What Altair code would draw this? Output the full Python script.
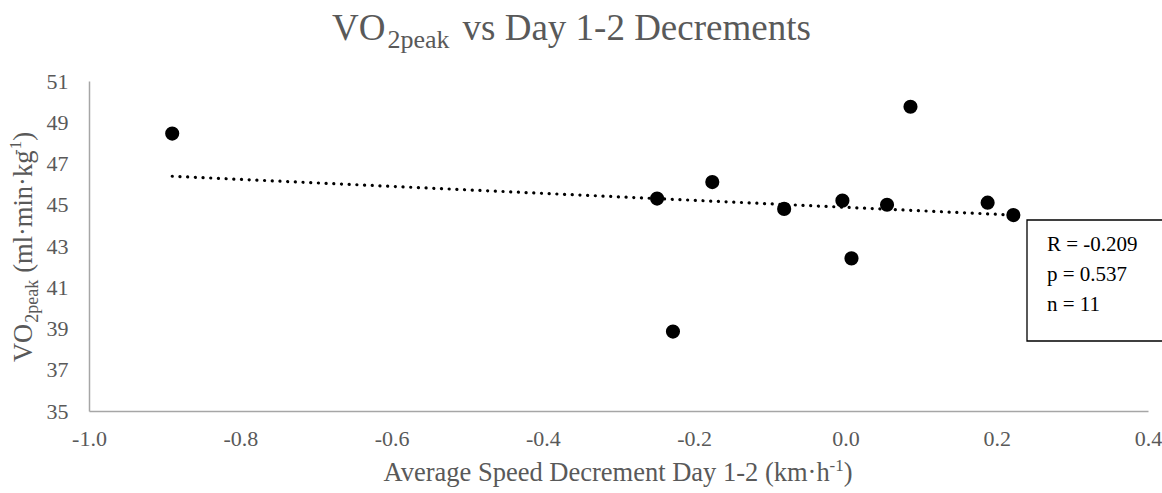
import altair as alt
import pandas as pd

# ---- data ----
speed_decrement = [-0.890, -0.249, -0.228, -0.176, -0.081, -0.004, 0.008, 0.055, 0.086, 0.188, 0.222]
vo2peak = [48.45, 45.30, 38.85, 46.10, 44.80, 45.20, 42.40, 45.00, 49.75, 45.10, 44.50]
x_ticks = [-1.0, -0.8, -0.6, -0.4, -0.2, 0.0, 0.2, 0.4]
y_ticks = [35, 37, 39, 41, 43, 45, 47, 49, 51]
stats_lines = ["R = -0.209", "p = 0.537", "n = 11"]

df = pd.DataFrame({"x": speed_decrement, "y": vo2peak})

FONT = "Liberation Serif"
GREY = "#595959"
W, H = 1059, 330
PAD_L, PAD_T = 89, 81

TNR = {' ': 250, 'V': 722, 'O': 722, 'v': 500, 's': 389, 'D': 722, 'a': 444, 'y': 500,
       '1': 500, '-': 333, '2': 500, 'e': 444, 'c': 444, 'r': 333, 'm': 778, 'n': 500,
       't': 278, 'p': 500, 'k': 500, '(': 333, ')': 333, 'l': 278, '·': 250, 'i': 278,
       'g': 500, 'h': 500, 'A': 722, 'S': 556, 'd': 500}


def tw(s, size):
    return sum(TNR.get(c, 500) for c in s) * size / 1000.0


def text_layer(txt, x, y, size, color=GREY, angle=0, align="left", baseline="alphabetic"):
    props = dict(font=FONT, fontSize=size, color=color, align=align, baseline=baseline)
    if angle:
        props["angle"] = angle
    return alt.Chart(pd.DataFrame({"t": [txt]})).mark_text(**props).encode(
        text="t:N", x=alt.value(x), y=alt.value(y))


def rich_h(segments, x0, base_y):
    """segments: (text, size, baseline_shift, gap_before) laid out left to right from x0."""
    x = x0
    out = []
    for t, s, d, g in segments:
        x += g
        out.append(text_layer(t, x, base_y + d, s))
        x += tw(t, s)
    return out


def rich_v(segments, cy, base_x):
    """rotated 270: text runs bottom to top, centred on cy."""
    total = sum(tw(t, s) + g for t, s, _, g in segments)
    y = cy + total / 2
    out = []
    for t, s, d, g in segments:
        y -= g
        out.append(text_layer(t, base_x + d, y, s, angle=270))
        y -= tw(t, s)
    return out


xscale = alt.Scale(domain=[-1.0, 0.4], nice=False, zero=False)
yscale = alt.Scale(domain=[35, 51], nice=False, zero=False)

base = alt.Chart(df)

points = base.mark_circle(size=200, color="black", opacity=1).encode(
    x=alt.X("x:Q", scale=xscale,
            axis=alt.Axis(values=x_ticks, format=".1f", title=None, grid=False, ticks=False,
                          domainColor="#a6a6a6", domainWidth=1.5, labelFont=FONT,
                          labelFontSize=22, labelColor=GREY, labelPadding=17,
                          labelFlush=False, labelOverlap=False,
                          labelExpr="replace(datum.label, '\u2212', '-')")),
    y=alt.Y("y:Q", scale=yscale,
            axis=alt.Axis(values=y_ticks, format="d", title=None, grid=False, ticks=False,
                          domainColor="#a6a6a6", domainWidth=1.5, labelFont=FONT,
                          labelFontSize=22, labelColor=GREY, labelPadding=21,
                          labelOverlap=False)),
)

trend = base.transform_regression("x", "y").mark_line(
    color="black", strokeWidth=3.2, strokeDash=[0.1, 7.6], strokeCap="round").encode(
    x=alt.X("x:Q", scale=xscale), y=alt.Y("y:Q", scale=yscale))

box = alt.Chart(pd.DataFrame({"a": [0]})).mark_rect(
    fill="white", stroke="black", strokeWidth=1.3).encode(
    x=alt.value(938), x2=alt.value(1080), y=alt.value(139), y2=alt.value(260))

stats = [text_layer(s, 958, 164 + i * 30, 21, color="black", baseline="middle")
         for i, s in enumerate(stats_lines)]

title = rich_h([("VO", 37, 0, 0), ("2peak", 26, 8, 2), ("vs Day 1-2 Decrements", 37, 0, 13)], 243, -41)
xw = tw("Average Speed Decrement Day 1-2 (km·h", 26.5) + tw("-1", 17) + tw(")", 26.5)
xtitle = rich_h([("Average Speed Decrement Day 1-2 (km·h", 26.5, 0, 0), ("-1", 17, -10, 0), (")", 26.5, 0, 0)],
                529 - xw / 2, 400)
ytitle = rich_v([("VO", 26.5, 0, 0), ("2peak", 18, 6, 1), ("(ml·min·kg", 26.5, 0, 7), ("-1", 17, -11, 0), (")", 26.5, 0, 0)],
                166, -57)

chart = alt.layer(trend, points, box, *stats, *title, *xtitle, *ytitle).properties(
    width=W, height=H,
    autosize=alt.AutoSizeParams(type="none"),
    padding={"left": PAD_L, "top": PAD_T, "right": 1162 - PAD_L - W, "bottom": 493 - PAD_T - H},
).configure_view(stroke=None)

chart.save("out.html", embed_options={"renderer": "svg", "actions": False})
